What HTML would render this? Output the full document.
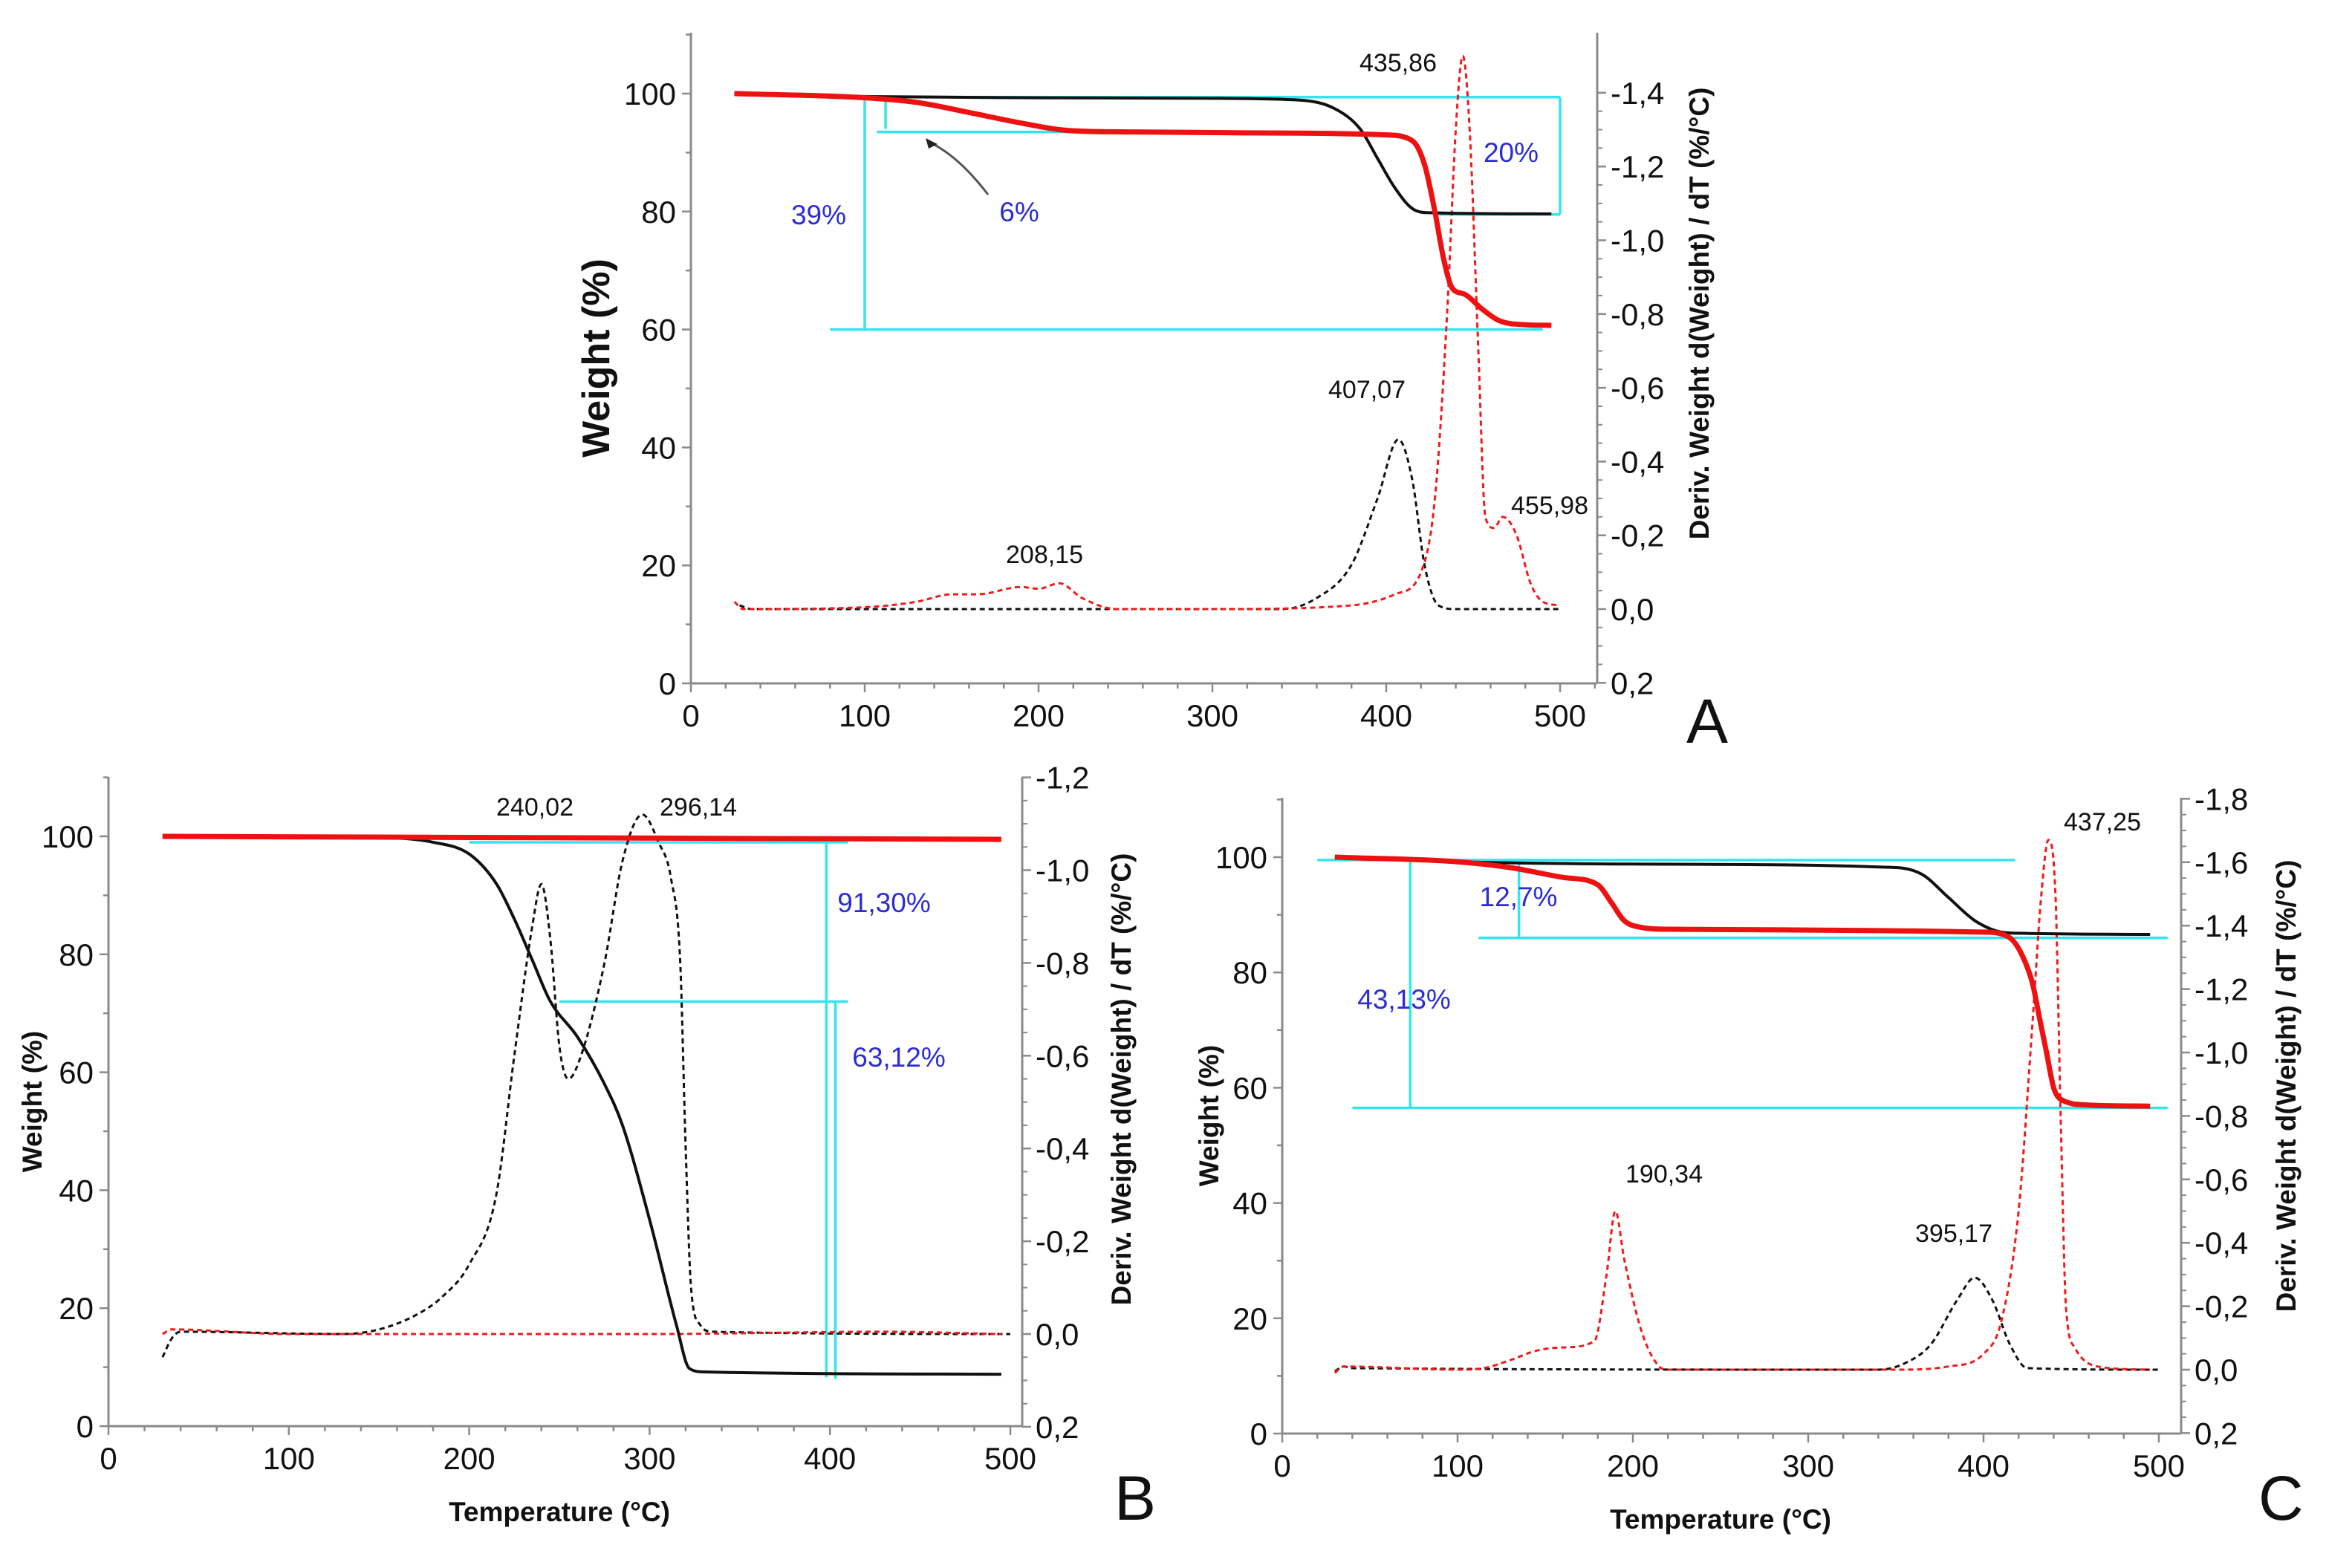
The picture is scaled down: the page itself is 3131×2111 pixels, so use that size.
<!DOCTYPE html>
<html><head><meta charset="utf-8"><style>
html,body{margin:0;padding:0;background:#fff;}
svg{display:block;font-family:"Liberation Sans",Arial,sans-serif;}
</style></head><body>
<svg id="fig" width="3131" height="2111" viewBox="0 0 3131 2111" xmlns="http://www.w3.org/2000/svg"></svg>
<script>
// ---- Panel A data ----
const aBlackT=[25,100,200,300,350,370,385,395,405,415,425,495];
const aBlackW=[100,99.5,99.3,99.2,98.9,97.5,94,89,84,80.5,79.8,79.6];
const aRedT=[25,100,130,160,190,215,250,350,400,415,422,428,433,438,445,455,465,480,495];
const aRedW=[100,99.3,98.5,96.8,95,93.8,93.5,93.3,93.0,92,88,80,72,67,66,63.5,61.5,60.8,60.7];
const aDBlackT=[28,35,100,300,340,360,380,395,407,415,422,430,440,500];
const aDBlackV=[-0.01,0,0,0,0,-0.03,-0.12,-0.3,-0.46,-0.35,-0.12,-0.01,0,0];
const aDRedT=[25,30,100,130,150,165,190,200,212,225,245,300,380,405,420,428,435,440,444,448,453,457,462,467,475,483,490,500];
const aDRedV=[-0.02,0,-0.005,-0.02,-0.04,-0.04,-0.06,-0.055,-0.07,-0.03,0,0,-0.01,-0.04,-0.1,-0.3,-0.8,-1.3,-1.5,-1.3,-0.7,-0.25,-0.22,-0.25,-0.2,-0.07,-0.02,-0.01];
// ---- Panel B data ----
const bBlackT=[30,150,180,200,215,225,235,245,260,275,285,300,315,322,330,495];
const bBlackW=[100,99.8,99,97,92,86,79,72,66,58,51,35,17,9.8,9.2,8.8];
const bRedT=[30,495];
const bRedW=[100,99.5];
const bDBlackT=[30,35,40,130,150,170,185,200,215,225,235,240,245,250,255,262,275,285,296,305,312,317,320,323,328,335,500];
const bDBlackV=[0.05,0.01,-0.005,0,-0.01,-0.04,-0.08,-0.15,-0.3,-0.6,-0.88,-0.97,-0.85,-0.62,-0.55,-0.6,-0.8,-1.02,-1.12,-1.06,-0.98,-0.8,-0.4,-0.1,-0.02,-0.005,0];
const bDRedT=[30,35,100,300,430,495];
const bDRedV=[0,-0.01,0,0,-0.005,0];
// ---- Panel C data ----
const cBlackT=[30,100,200,350,365,380,395,410,420,495];
const cBlackW=[100,99.2,98.8,98.2,97,93,89,87,86.8,86.6];
const cRedT=[30,100,130,160,180,188,195,205,220,400,415,422,428,432,436,440,444,460,495];
const cRedW=[100,99.2,98.2,96.5,95.2,92,89,87.8,87.5,87,86,83,78,72,66,60,58,57,56.8];
const cDBlackT=[30,35,40,340,355,370,385,395,405,415,425,500];
const cDBlackV=[0.005,-0.01,-0.005,0,-0.02,-0.08,-0.22,-0.29,-0.22,-0.08,-0.005,0];
const cDRedT=[30,35,100,115,130,145,160,178,185,190,195,205,215,220,350,380,400,410,420,428,433,437,441,444,447,452,465,495];
const cDRedV=[0.01,-0.01,0,-0.005,-0.03,-0.06,-0.07,-0.09,-0.3,-0.5,-0.35,-0.12,-0.01,0,0,-0.01,-0.05,-0.15,-0.5,-1.1,-1.5,-1.67,-1.5,-0.8,-0.2,-0.07,-0.01,0];
// tick labels
const xTicks=[0,100,200,300,400,500];
const wTicks=[0,20,40,60,80,100];
const aDTicks=[0.2,0,-0.2,-0.4,-0.6,-0.8,-1.0,-1.2,-1.4];
const bDTicks=[0.2,0,-0.2,-0.4,-0.6,-0.8,-1.0,-1.2];
const cDTicks=[0.2,0,-0.2,-0.4,-0.6,-0.8,-1.0,-1.2,-1.4,-1.6,-1.8];

const NS="http://www.w3.org/2000/svg";
const svg=document.getElementById('fig');
function mk(tag,attrs,parent,text){const e=document.createElementNS(NS,tag);for(const k in attrs)e.setAttribute(k,attrs[k]);if(text!==undefined)e.textContent=text;(parent||svg).appendChild(e);return e;}
function fmt(v){return v.toFixed(1).replace('.',',').replace('-0,0','0,0');}

// monotone cubic path (x increasing)
function smooth(xs,ys){
  const n=xs.length;
  if(n<3)return xs.map((x,i)=>(i?'L':'M')+x.toFixed(1)+' '+ys[i].toFixed(1)).join(' ');
  const d=[],m=[];
  for(let i=0;i<n-1;i++)d.push((ys[i+1]-ys[i])/(xs[i+1]-xs[i]));
  m[0]=d[0];m[n-1]=d[n-2];
  for(let i=1;i<n-1;i++){m[i]=(d[i-1]*d[i]<=0)?0:(d[i-1]+d[i])/2;}
  for(let i=0;i<n-1;i++){if(d[i]===0){m[i]=0;m[i+1]=0;continue;}
    const a=m[i]/d[i],b=m[i+1]/d[i],s=a*a+b*b;
    if(s>9){const t=3/Math.sqrt(s);m[i]=t*a*d[i];m[i+1]=t*b*d[i];}}
  let p='M'+xs[0].toFixed(1)+' '+ys[0].toFixed(1);
  for(let i=0;i<n-1;i++){const h=(xs[i+1]-xs[i])/3;
    p+=' C'+(xs[i]+h).toFixed(1)+' '+(ys[i]+m[i]*h).toFixed(1)+' '+(xs[i+1]-h).toFixed(1)+' '+(ys[i+1]-m[i+1]*h).toFixed(1)+' '+xs[i+1].toFixed(1)+' '+ys[i+1].toFixed(1);}
  return p;
}

function panel(P){
  const g=mk('g',{});
  
  
  const X=t=>P.x0+(P.x500-P.x0)*t/500;
  const W=w=>P.w0+(P.w100-P.w0)*w/100;
  const D=v=>P.d0+v*P.dPer;
  const ax='#8a8a8a';
  let e=mk('line',{x1:P.x0,y1:P.top,x2:P.x0,y2:P.w0,stroke:ax,'stroke-width':3},g);
  
  e=mk('line',{x1:P.x0,y1:P.w0,x2:P.rx,y2:P.w0,stroke:ax,'stroke-width':3},g);
  
  e=mk('line',{x1:P.rx,y1:P.top,x2:P.rx,y2:P.w0,stroke:ax,'stroke-width':3},g);
  
  for(let t=0;t<=P.xmax;t+=20){const big=t%100===0;mk('line',{x1:X(t),y1:P.w0,x2:X(t),y2:P.w0+(big?12:7),stroke:ax,'stroke-width':2.5},g);}
  xTicks.forEach(t=>{e=mk('text',{x:X(t),y:P.w0+58,'font-size':42,'text-anchor':'middle',fill:'#111'},g,String(t));
    });
  for(let w=0;w<=110;w+=10){mk('line',{x1:P.x0-(w%20===0?12:7),y1:W(w),x2:P.x0,y2:W(w),stroke:ax,'stroke-width':2.5},g);}
  wTicks.forEach(w=>{e=mk('text',{x:P.x0-20,y:W(w)+15,'font-size':42,'text-anchor':'end',fill:'#111'},g,String(w));
    });
  P.dTicks.forEach(v=>{mk('line',{x1:P.rx,y1:D(v),x2:P.rx+12,y2:D(v),stroke:ax,'stroke-width':2.5},g);
    e=mk('text',{x:P.rx+18,y:D(v)+15,'font-size':42,fill:'#111'},g,fmt(v));
    });
  for(let v=0.2;v>=P.dTicks[P.dTicks.length-1]-0.001;v-=0.05){mk('line',{x1:P.rx,y1:D(v),x2:P.rx+7,y2:D(v),stroke:ax,'stroke-width':2},g);}
  e=mk('text',{x:P.ltx,y:(P.top+P.w0)/2,'font-size':P.ltSize,'font-weight':'bold','text-anchor':'middle',fill:'#111',transform:`rotate(-90 ${P.ltx} ${(P.top+P.w0)/2})`},g,'Weight (%)');
  
  const ry=(P.top+P.w0)/2+P.rtdy;
  e=mk('text',{x:P.rtx,y:ry,'font-size':37,'font-weight':'bold','text-anchor':'middle',fill:'#111',transform:`rotate(-90 ${P.rtx} ${ry})`},g,'Deriv. Weight d(Weight) / dT (%/°C)');
  
  if(P.xTitle){e=mk('text',{x:(P.x0+P.x500)/2,y:P.w0+128,'font-size':37,'font-weight':'bold','text-anchor':'middle',fill:'#111'},g,'Temperature (°C)');
    }
  e=mk('text',{x:P.lx,y:P.ly,'font-size':84,fill:'#111'},g,P.id);
  
  P.cyan.forEach(c=>{const [t1,w1,t2,w2]=c;
    e=mk('line',{x1:X(t1),y1:W(w1),x2:X(t2),y2:W(w2),stroke:'#33e6ee','stroke-width':3.5},g);
    });
  const path=(T,V,f)=>smooth(T.map(X),V.map(f));
  e=mk('path',{d:path(P.dbT,P.dbV,D),fill:'none',stroke:'#111','stroke-width':3,'stroke-dasharray':'7 5','stroke-linejoin':'round'},g);
  
  e=mk('path',{d:path(P.drT,P.drV,D),fill:'none',stroke:'#ee1c1c','stroke-width':3,'stroke-dasharray':'7 5','stroke-linejoin':'round'},g);
  
  e=mk('path',{d:path(P.bT,P.bW,W),fill:'none',stroke:'#111','stroke-width':4,'stroke-linejoin':'round'},g);
  
  e=mk('path',{d:path(P.rT,P.rW,W),fill:'none',stroke:'#ee1111','stroke-width':7,'stroke-linejoin':'round'},g);
  
  P.labels.forEach(l=>{e=mk('text',{x:l[0],y:l[1],'font-size':l[3]?37:34,'text-anchor':'middle',fill:l[3]?'#2b2bd8':'#111'},g,l[2]);
    });
  return g;
}

panel({id:'A',x0:930,x500:2100,rx:2150,xmax:520,w0:920,w100:126,top:44,d0:820,dPer:496.5,dTicks:aDTicks,
  bT:aBlackT,bW:aBlackW,rT:aRedT,rW:aRedW,dbT:aDBlackT,dbV:aDBlackV,drT:aDRedT,drV:aDRedV,
  ltx:820,ltSize:52,rtx:2300,rtdy:-60,xTitle:false,lx:2270,ly:1000,
  cyan:[[100,99.4,500,99.4],[107,93.5,230,93.5],[80,60,490,60],[100,99.4,100,60],[112,99.4,112,94],[500,99.4,500,79.5],[430,79.5,500,79.5]],
  labels:[[1882,96,'435,86'],[1840,536,'407,07'],[2086,692,'455,98'],[1406,758,'208,15'],[1102,302,'39%',1],[1372,298,'6%',1],[2034,218,'20%',1]]});
panel({id:'B',x0:146,x500:1360,rx:1376,xmax:500,w0:1920,w100:1126,top:1046,d0:1796,dPer:624.5,dTicks:bDTicks,
  bT:bBlackT,bW:bBlackW,rT:bRedT,rW:bRedW,dbT:bDBlackT,dbV:bDBlackV,drT:bDRedT,drV:bDRedV,
  ltx:56,ltSize:37,rtx:1522,rtdy:-30,xTitle:true,lx:1500,ly:2046,
  cyan:[[200,99,410,99],[398,99,398,8.3],[403,72,403,8],[250,72,410,72]],
  labels:[[720,1098,'240,02'],[940,1098,'296,14'],[1190,1228,'91,30%',1],[1210,1436,'63,12%',1]]});
panel({id:'C',x0:1726,x500:2906,rx:2936,xmax:500,w0:1930,w100:1154,top:1074,d0:1844,dPer:427,dTicks:cDTicks,
  bT:cBlackT,bW:cBlackW,rT:cRedT,rW:cRedW,dbT:cDBlackT,dbV:cDBlackV,drT:cDRedT,drV:cDRedV,
  ltx:1640,ltSize:37,rtx:3090,rtdy:-40,xTitle:true,lx:3040,ly:2046,
  cyan:[[20,99.5,418,99.5],[73,99.5,73,56.5],[40,56.5,505,56.5],[112,86,505,86],[135,99,135,86]],
  labels:[[2240,1592,'190,34'],[2630,1672,'395,17'],[2830,1118,'437,25'],[1890,1358,'43,13%',1],[2044,1220,'12,7%',1]]});

let ar=mk('path',{d:'M1330 262 Q1290 210 1252 192',fill:'none',stroke:'#555','stroke-width':3});


let ah=mk('path',{d:'M1246 186 L1262 194 L1250 200 Z',fill:'#222'});


</script>
</body></html>
